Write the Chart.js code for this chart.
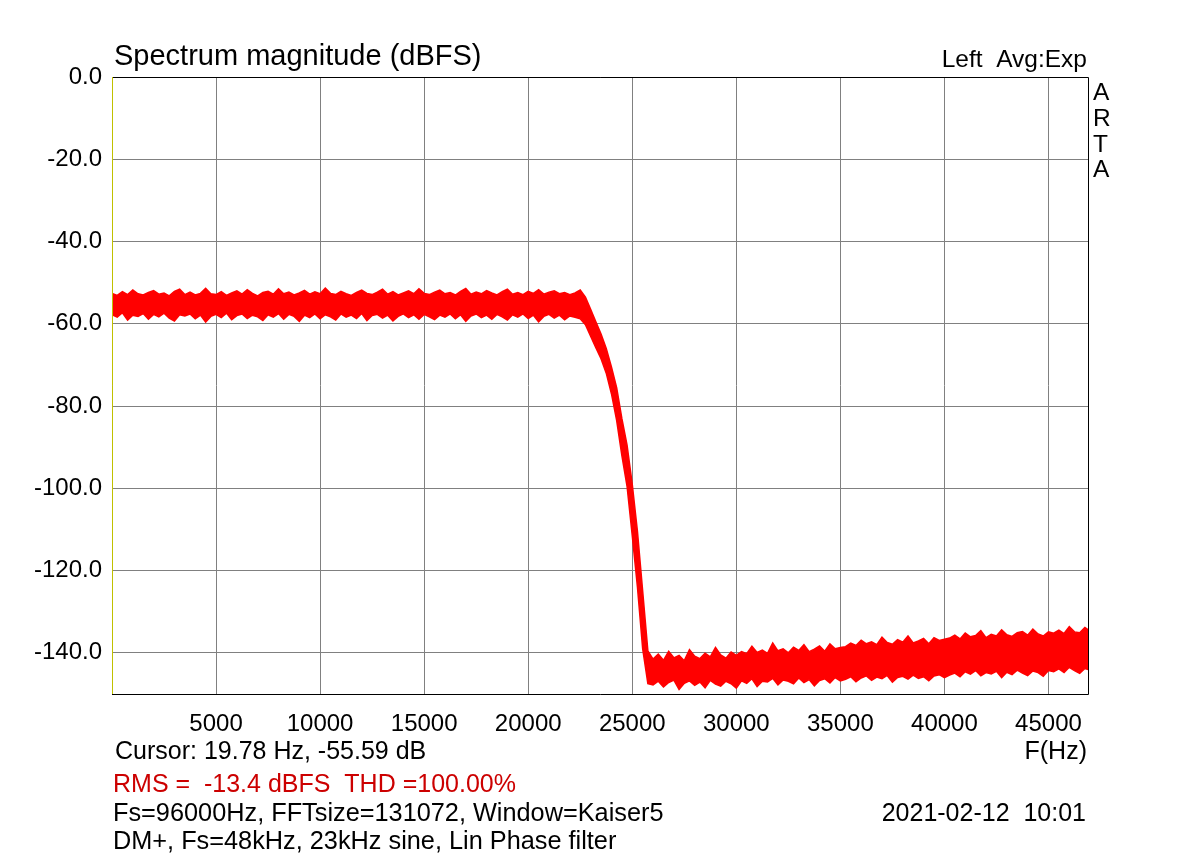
<!DOCTYPE html>
<html>
<head>
<meta charset="utf-8">
<title>Spectrum magnitude</title>
<script src="https://cdn.jsdelivr.net/npm/chart.js@4/dist/chart.umd.min.js"></script>
<style>
  html, body { margin: 0; padding: 0; background: #fff; }
  #wrap { width: 1200px; height: 860px; }
</style>
</head>
<body>
<div id="wrap"><canvas id="spectrumChart" width="1200" height="860"></canvas></div>
<script>
// FFT bins every 250 Hz, 0 .. 47000 Hz
const binStep = 250;

// upper edge of the noise band (dBFS)
const upperDb = [
  -52.6,-53.1,-52.2,-52.9,-51.8,-52.7,-53.0,-52.4,-51.9,-52.8,
  -52.5,-53.2,-52.1,-51.6,-52.9,-52.3,-53.0,-52.6,-51.4,-52.7,
  -52.9,-52.2,-53.1,-52.5,-52.0,-52.8,-51.7,-52.6,-53.2,-52.4,
  -52.1,-52.8,-51.5,-52.7,-52.3,-53.0,-52.5,-51.9,-52.8,-52.2,
  -52.7,-51.3,-52.6,-52.9,-52.1,-52.7,-53.1,-52.4,-51.8,-52.6,
  -52.9,-52.3,-51.6,-52.8,-52.2,-53.0,-52.5,-52.0,-52.7,-51.5,
  -52.6,-52.9,-52.3,-51.8,-52.7,-52.4,-53.0,-52.1,-51.4,-52.8,
  -52.3,-52.7,-51.9,-52.5,-53.0,-52.2,-51.6,-52.8,-52.4,-52.9,
  -52.1,-52.6,-51.7,-52.8,-52.3,-52.0,-52.7,-52.4,-52.9,-52.5,
  -51.8,-53.5,-56.5,-59.5,-62.5,-66.0,-70.5,-75.5,-83.0,-89.5,
  -99.0,-110.5,-125.0,-139.5,
  -141.5,-140.3,-141.8,-139.6,-141.2,-140.6,-141.9,-139.2,-140.8,-141.4,
  -140.1,-141.0,-138.7,-140.5,-141.3,-139.8,-140.6,
  -139.7,-140.2,-138.4,-139.9,-139.3,-140.1,-137.6,-139.5,-139.0,-140.0,
  -138.6,-139.4,-138.0,-139.7,-139.1,-138.3,-139.6,-137.8,-139.0,-138.7,
  -138.5,-137.6,-138.2,-136.9,-137.8,-137.3,-138.0,-136.2,-137.5,-137.9,
  -136.8,-137.4,-135.9,-137.6,-137.1,-136.5,-137.8,-136.3,-137.0,-136.7,
  -136.4,-135.7,-136.6,-135.2,-136.1,-135.8,-134.6,-136.3,-135.5,-135.9,
  -134.4,-135.6,-136.0,-135.1,-134.8,-135.7,-134.2,-135.4,-135.9,-134.9,
  -135.2,-134.5,-135.3,-133.6,-134.9,-135.1,-133.8,-134.7
];

// lower edge of the noise band (dBFS)
const lowerDb = [
  -57.8,-58.4,-57.3,-59.1,-57.9,-58.2,-57.5,-58.9,-57.7,-58.3,
  -57.4,-58.6,-59.3,-57.8,-58.1,-57.6,-58.8,-57.9,-59.6,-58.2,
  -57.7,-58.5,-57.4,-59.0,-58.0,-57.6,-58.7,-57.9,-58.3,-59.2,
  -57.8,-58.4,-57.5,-58.9,-57.7,-58.2,-59.4,-57.9,-58.5,-57.6,
  -58.8,-57.8,-58.3,-59.1,-57.6,-58.4,-57.9,-58.7,-57.5,-59.2,
  -58.0,-57.7,-58.6,-57.9,-59.3,-58.2,-57.6,-58.5,-57.8,-58.9,
  -57.7,-58.3,-59.0,-57.9,-58.4,-57.6,-58.8,-57.8,-59.4,-58.1,
  -57.6,-58.5,-57.9,-58.9,-57.7,-58.3,-59.1,-57.8,-58.4,-57.6,
  -58.7,-57.9,-59.5,-58.2,-57.7,-58.6,-57.9,-59.0,-58.1,-58.4,
  -58.8,-60.2,-63.0,-65.8,-68.5,-72.0,-77.0,-83.5,-92.0,-99.5,
  -111.5,-124.0,-139.0,-147.5,
  -147.8,-146.9,-148.3,-147.2,-146.6,-148.9,-147.4,-146.8,-147.9,-147.1,
  -148.5,-146.7,-147.6,-148.1,-146.9,-147.5,-148.6,
  -146.8,-147.4,-146.3,-148.2,-146.9,-147.1,-146.2,-147.8,-146.6,-146.9,
  -147.5,-146.1,-147.2,-146.5,-148.0,-146.7,-146.3,-147.3,-146.0,-146.8,
  -146.4,-145.8,-147.0,-146.1,-145.6,-146.7,-145.9,-146.3,-145.5,-147.1,
  -146.0,-145.7,-146.4,-145.4,-146.2,-145.8,-146.8,-145.6,-145.3,-146.0,
  -145.4,-144.9,-145.8,-144.6,-145.2,-144.3,-145.6,-144.8,-145.1,-144.5,
  -146.0,-144.7,-145.3,-144.2,-144.9,-145.5,-144.4,-144.8,-145.7,-144.3,
  -144.6,-143.9,-144.8,-143.5,-144.3,-145.0,-143.8,-144.2
];

// tick positions
const freqTicks = [0, 5000, 10000, 15000, 20000, 25000, 30000, 35000, 40000, 45000];
const dbTicks = [0, -20, -40, -60, -80, -100, -120, -140];

const freqs = upperDb.map((_, i) => i * binStep);
const toPoints = (vals) => vals.map((v, i) => ({ x: freqs[i], y: v }));

const FONT = '"Liberation Sans", Arial, sans-serif';

// frame + the text around the plot
const artaDecor = {
  id: "artaDecor",
  afterDatasetsDraw(chart) {
    const { ctx, chartArea: a } = chart;
    ctx.save();
    ctx.lineWidth = 1;
    ctx.strokeStyle = "#000";
    ctx.beginPath();
    ctx.moveTo(a.left, a.top + 0.5);
    ctx.lineTo(a.right + 0.5, a.top + 0.5);
    ctx.lineTo(a.right + 0.5, a.bottom + 0.5);
    ctx.lineTo(a.left, a.bottom + 0.5);
    ctx.stroke();
    ctx.strokeStyle = "#c0c000";
    ctx.beginPath();
    ctx.moveTo(a.left + 0.5, a.top);
    ctx.lineTo(a.left + 0.5, a.bottom);
    ctx.stroke();
    ctx.restore();
  },
  afterDraw(chart) {
    const { ctx, chartArea: a } = chart;
    ctx.save();
    ctx.textBaseline = "alphabetic";
    ctx.fillStyle = "#000";

    ctx.font = "29px " + FONT;
    ctx.textAlign = "left";
    ctx.fillText("Spectrum magnitude (dBFS)", 114, 65);

    ctx.font = "24.5px " + FONT;
    ctx.textAlign = "right";
    ctx.fillText("Left  Avg:Exp", a.right - 1, 67);

    ctx.textAlign = "left";
    ["A", "R", "T", "A"].forEach((ch, i) => {
      ctx.fillText(ch, a.right + 5, 100 + i * 25.8);
    });

    ctx.font = "25px " + FONT;
    ctx.fillText("Cursor: 19.78 Hz, -55.59 dB", 115, 759);
    ctx.textAlign = "right";
    ctx.fillText("F(Hz)", a.right - 1, 759);

    ctx.textAlign = "left";
    ctx.fillStyle = "#cc0000";
    ctx.fillText("RMS =  -13.4 dBFS  THD =100.00%", 113, 792);

    ctx.fillStyle = "#000";
    ctx.font = "25.3px " + FONT;
    ctx.fillText("Fs=96000Hz, FFTsize=131072, Window=Kaiser5", 113, 821);
    ctx.fillText("DM+, Fs=48kHz, 23kHz sine, Lin Phase filter", 113, 849);
    ctx.font = "25px " + FONT;
    ctx.textAlign = "right";
    ctx.fillText("2021-02-12  10:01", a.right - 2, 821);
    ctx.restore();
  }
};

const ctx = document.getElementById("spectrumChart").getContext("2d");
const chart = new Chart(ctx, {
  type: "line",
  data: {
    datasets: [
      {
        label: "upper",
        data: toPoints(upperDb),
        borderColor: "#ff0000",
        backgroundColor: "#ff0000",
        borderWidth: 1.5,
        pointRadius: 0,
        fill: "+1"
      },
      {
        label: "lower",
        data: toPoints(lowerDb),
        borderColor: "#ff0000",
        borderWidth: 1.5,
        pointRadius: 0,
        fill: false
      }
    ]
  },
  options: {
    responsive: false,
    animation: false,
    layout: { padding: { left: 0, top: 77, right: 112, bottom: 0 } },
    plugins: {
      legend: { display: false },
      tooltip: { enabled: false }
    },
    scales: {
      x: {
        type: "linear",
        min: 0,
        max: 46900,
        afterBuildTicks: (s) => {
          s.ticks = freqTicks.map((v) => ({ value: v }));
        },
        afterFit: (s) => { s.height = 166; },
        grid: { color: "#808080", lineWidth: 1, drawTicks: false },
        border: { display: false },
        ticks: {
          autoSkip: false,
          maxRotation: 0,
          minRotation: 0,
          padding: 16,
          color: "#000",
          font: { family: FONT, size: 24 },
          callback: (v) => (v === 0 ? "" : String(v))
        }
      },
      y: {
        type: "linear",
        min: -150,
        max: 0,
        afterBuildTicks: (s) => {
          s.ticks = dbTicks.map((v) => ({ value: v }));
        },
        afterFit: (s) => { s.width = 112; },
        grid: { color: "#808080", lineWidth: 1, drawTicks: false },
        border: { display: false },
        ticks: {
          autoSkip: false,
          padding: 10,
          color: "#000",
          font: { family: FONT, size: 24 },
          callback: (v) => v.toFixed(1)
        }
      }
    }
  },
  plugins: [artaDecor]
});
</script>
</body>
</html>
